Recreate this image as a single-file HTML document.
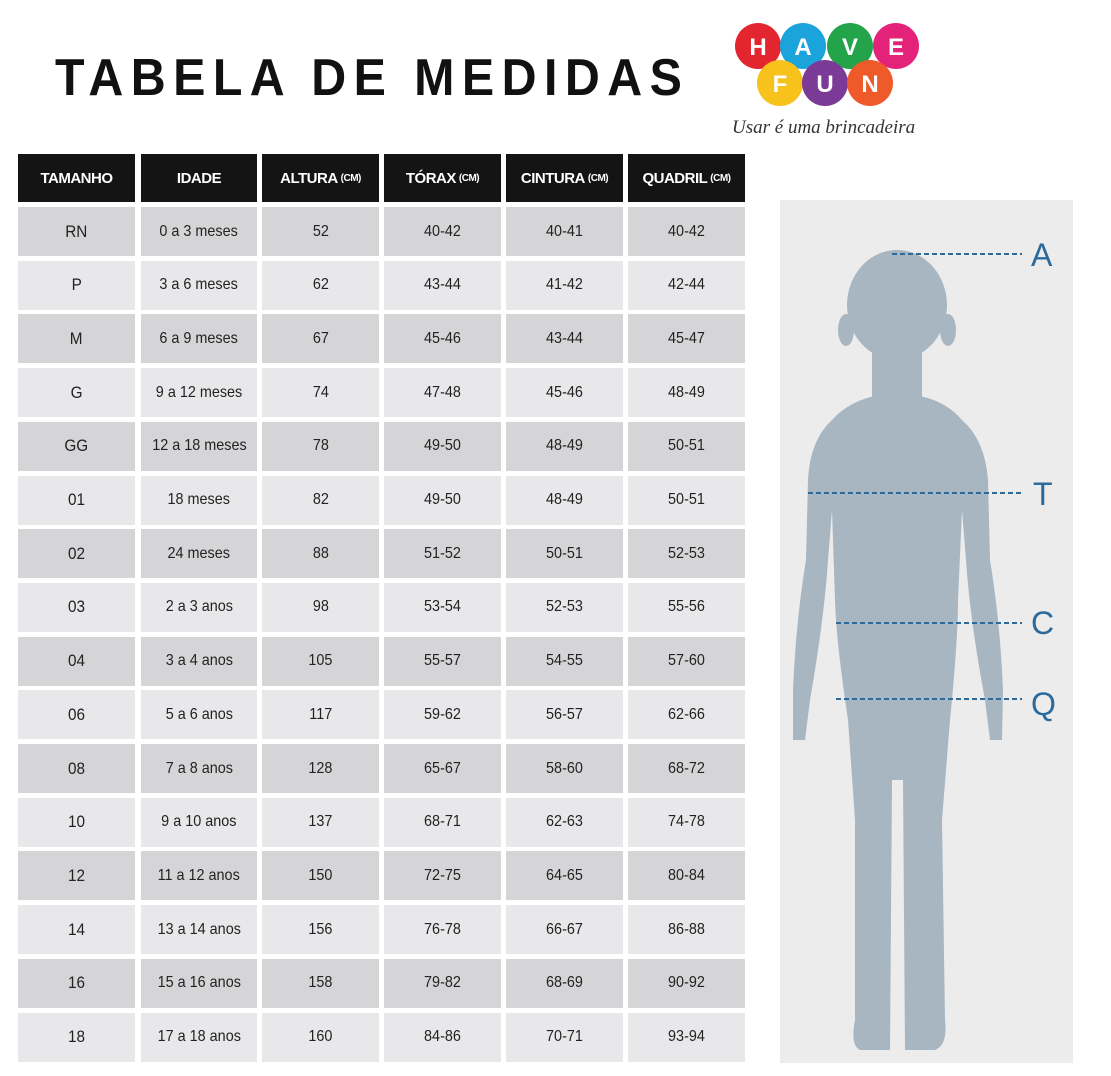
<!DOCTYPE html>
<html><head><meta charset="utf-8"><style>
body{margin:0;width:1111px;height:1076px;background:#fff;position:relative;overflow:hidden;font-family:"Liberation Sans",sans-serif}
.t{position:absolute;left:55px;top:48px;font-size:52px;font-weight:bold;letter-spacing:8px;color:#111;transform:scaleX(0.93);transform-origin:left}
.c{position:absolute;display:flex;align-items:center;justify-content:center;font-size:16px;color:#222}
.c span{display:inline-block;transform:scaleX(0.9)}
.h{background:#141414;color:#fff;font-weight:bold;font-size:15px;letter-spacing:-0.5px}
.h small{font-size:10px;margin-left:3px}
</style></head><body>
<div class="t">TABELA DE MEDIDAS</div>
<svg style="position:absolute;left:0;top:0" width="1111" height="1076">
<g font-family="Liberation Sans" font-weight="bold" font-size="24" fill="#fff" text-anchor="middle">
<circle cx="758" cy="46" r="23" fill="#e2252e"/><text x="758" y="55">H</text>
<circle cx="803" cy="46" r="23" fill="#1ba3dc"/><text x="803" y="55">A</text>
<circle cx="850" cy="46" r="23" fill="#23a44a"/><text x="850" y="55">V</text>
<circle cx="896" cy="46" r="23" fill="#e5227a"/><text x="896" y="55">E</text>
<circle cx="780" cy="83" r="23" fill="#f6c21b"/><text x="780" y="92">F</text>
<circle cx="825" cy="83" r="23" fill="#7c3a97"/><text x="825" y="92">U</text>
<circle cx="870" cy="83" r="23" fill="#ef5a2a"/><text x="870" y="92">N</text>
</g>
<text x="732" y="133" font-family="Liberation Serif" font-style="italic" font-size="19" fill="#333">Usar é uma brincadeira</text>
<rect x="780" y="200" width="293" height="863" fill="#ececed"/>
<g fill="#a7b6c1">
<ellipse cx="897" cy="305" rx="50" ry="55"/>
<ellipse cx="846" cy="330" rx="8" ry="16"/><ellipse cx="948" cy="330" rx="8" ry="16"/>
<rect x="872" y="350" width="50" height="50"/>
<path d="M832 420 Q850 400 880 395 L915 395 Q945 400 962 420 Q985 440 988 480 L990 560 Q1000 620 1003 690 L1002 740 L990 740 L985 700 Q970 620 966 560 L962 510 L958 600 Q958 640 950 720 L942 820 L945 1020 Q948 1045 935 1050 L905 1050 L903 780 L892 780 L890 1050 L860 1050 Q850 1045 855 1020 L855 820 L848 720 Q836 640 835 600 L832 510 L828 560 Q824 620 810 700 L805 740 L793 740 L793 690 Q796 620 806 560 L808 480 Q810 440 832 420 Z"/>
</g>
<g stroke="#2b6a9a" stroke-width="2" stroke-dasharray="5,3">
<line x1="892" y1="254" x2="1022" y2="254"/>
<line x1="808" y1="493" x2="1022" y2="493"/>
<line x1="836" y1="623" x2="1022" y2="623"/>
<line x1="836" y1="699" x2="1022" y2="699"/>
</g>
<g font-family="Liberation Sans" font-size="32" fill="#2b6a9a">
<text x="1031" y="266">A</text><text x="1033" y="505">T</text><text x="1031" y="634">C</text><text x="1031" y="715">Q</text>
</g>
</svg>
<div id="tb"></div>
<script>
var xs=[18,141,262,384,506,628],ws=[117,116,117,117,117,117];
var hd=['TAMANHO','IDADE','ALTURA<small>(CM)</small>','TÓRAX<small>(CM)</small>','CINTURA<small>(CM)</small>','QUADRIL<small>(CM)</small>'];
var rows=[["RN","0 a 3 meses","52","40-42","40-41","40-42"],["P","3 a 6 meses","62","43-44","41-42","42-44"],["M","6 a 9 meses","67","45-46","43-44","45-47"],["G","9 a 12 meses","74","47-48","45-46","48-49"],["GG","12 a 18 meses","78","49-50","48-49","50-51"],["01","18 meses","82","49-50","48-49","50-51"],["02","24 meses","88","51-52","50-51","52-53"],["03","2 a 3 anos","98","53-54","52-53","55-56"],["04","3 a 4 anos","105","55-57","54-55","57-60"],["06","5 a 6 anos","117","59-62","56-57","62-66"],["08","7 a 8 anos","128","65-67","58-60","68-72"],["10","9 a 10 anos","137","68-71","62-63","74-78"],["12","11 a 12 anos","150","72-75","64-65","80-84"],["14","13 a 14 anos","156","76-78","66-67","86-88"],["16","15 a 16 anos","158","79-82","68-69","90-92"],["18","17 a 18 anos","160","84-86","70-71","93-94"]];
var h='';
for(var j=0;j<6;j++)h+='<div class="c h" style="left:'+xs[j]+'px;top:154px;width:'+ws[j]+'px;height:48px">'+hd[j]+'</div>';
for(var i=0;i<16;i++){var y=207+i*53.7;var bg=i%2?'#e8e8ea':'#d5d5d7';
for(var j=0;j<6;j++)h+='<div class="c" style="left:'+xs[j]+'px;top:'+y+'px;width:'+ws[j]+'px;height:49px;background:'+bg+(j==0?';font-size:17px':'')+'"><span>'+rows[i][j]+'</span></div>';}
document.getElementById('tb').innerHTML=h;
</script>
</body></html>
